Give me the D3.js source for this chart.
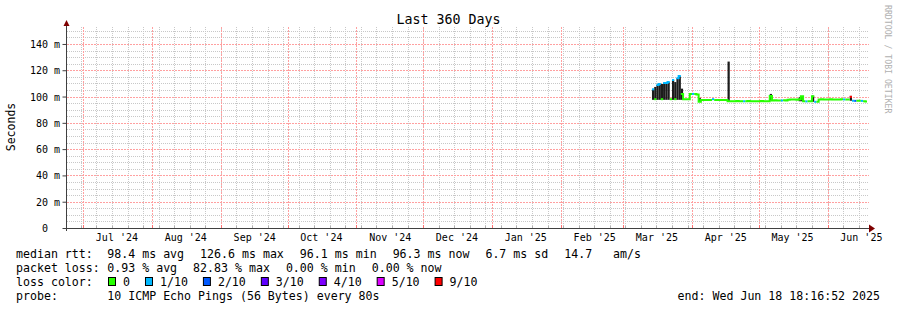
<!DOCTYPE html>
<html>
<head>
<meta charset="utf-8">
<script src="https://cdn.jsdelivr.net/npm/d3@7/dist/d3.min.js"></script>
<style>
body{margin:0;background:#fff;}
svg text{font-family:"DejaVu Sans Mono",monospace;white-space:pre;fill:#000;}
</style>
</head>
<body>
<div id="plot"></div>
<script>
// time span of the graph
var endTime = new Date(Date.UTC(2025,5,18,18,16,52));
var spanDays = 360;
var firstDay = "2025-03-14";

// one value per day from firstDay, in ms
var median = [105.5,98,108.8,109.6,98,110.3,110.3,111,98,112.6,98,114,115.6,102,98,98,98,102,102,102,101.5,96,
  97.3,97.3,97.3,97.3,97.3,98,97.3,97.3,97.3,97.3,97.3,97.3,96.5,
  96.5,96.4,96.5,96.6,96.5,96.5,96.4,96.5,96.6,96.5,96.5,96.4,96.5,96.5,96.6,96.5,96.4,96.5,
  100.5,97.0,97.1,97.0,96.9,97.0,97.1,97.0,97.6,97.7,97.8,97.7,97.6,98.0,100.2,
  96.4,96.3,96.4,96.4,100.3,96.0,96.1,
  97.8,97.9,97.8,97.7,97.8,97.9,97.8,97.8,97.7,97.8,97.9,97.8,97.8,97.7,
  99.8,96.8,96.7,96.8,96.8,96.7,96.5,96.3];
var loss = [1,0,1,1,0,1,1,1,0,1,0,1,1,0,0,0,0,0,1,0,0,0,
  0,0,0,0,0,1,0,0,0,0,0,0,0,
  0,0,0,0,0,0,1,0,0,0,0,0,0,0,0,0,0,0,
  0,0,0,0,0,1,0,0,0,0,0,0,0,0,0,
  0,1,0,0,0,1,0,
  0,0,0,0,0,0,0,0,0,0,0,1,0,0,
  9,1,2,0,0,1,0,0];
var smokeLo = [97.5,97.5,97.5,97.5,97.5,97.5,97.5,97.5,null,97.5,97.5,97.5,97.5,97.5,null,null,null,null,null,null,null,96,
  null,null,null,null,null,null,null,null,null,null,null,null,96.5,
  null,null,null,null,null,null,null,null,null,null,null,null,null,null,null,null,null,null,
  97,null,null,null,null,null,null,null,null,null,null,null,null,96.4,96.4,
  null,null,null,null,96,null,null,
  null,null,null,null,null,null,null,null,null,null,null,null,null,null,
  96.8,null,null,null,null,null,null,null];
var smokeHi = [105.8,107.3,108.8,109.6,109.6,110.3,110.3,111,null,112.6,111,114,115.6,106,null,null,null,null,null,null,null,99,
  null,null,null,null,null,null,null,null,null,null,null,null,126.6,
  null,null,null,null,null,null,null,null,null,null,null,null,null,null,null,null,null,null,
  102,null,null,null,null,null,null,null,null,null,null,null,null,99.5,100.4,
  null,null,null,null,100.6,null,null,
  null,null,null,null,null,null,null,null,null,null,null,null,null,null,
  100.5,null,null,null,null,null,null,null];

var lossLevels = [0,1,2,3,4,5,9];
var lossColors = ["#26ff00","#00b8ff","#0059ff","#5e00ff","#7e00ff","#dd00ff","#ff0000"];
var lossLabels = ["0","1/10","2/10","3/10","4/10","5/10","9/10"];

var yTicks = [0,20,40,60,80,100,120,140];
var yTickLabels = ["  0  "," 20 m"," 40 m"," 60 m"," 80 m","100 m","120 m","140 m"];
var monthLabels = ["Jul '24","Aug '24","Sep '24","Oct '24","Nov '24","Dec '24","Jan '25","Feb '25","Mar '25","Apr '25","May '25","Jun '25"];

var rttStats = ["98.4 ms avg","126.6 ms max","96.1 ms min","96.3 ms now","6.7 ms sd","14.7   am/s"];
var lossStats = ["0.93 % avg","82.83 % max","0.00 % min","0.00 % now"];
var probeText = "10 ICMP Echo Pings (56 Bytes) every 80s";
var endText = "end: Wed Jun 18 18:16:52 2025";

//set up
var W = 897, H = 310;
var plotL = 67, plotR = 867, plotT = 27, plotB = 228;
var svg = d3.select('#plot').append('svg')
  .attr('width',W).attr('height',H);
svg.append('rect').attr('width',W).attr('height',H).style('fill','#fff');

var startTime = d3.utcDay.offset(endTime,-spanDays);
var x = d3.scaleUtc().domain([startTime,endTime]).range([plotL,plotR]);
var y = d3.scaleLinear().domain([0,152.9]).range([plotB,plotT]);

var minorCol = '#c8c8c8', majorCol = '#ffa0a0';

//grid
var grid = svg.append('g').attr('shape-rendering','crispEdges');
var minorY = d3.range(5,152.9,5).filter(function(v){return v%20!==0;});
grid.selectAll('line.hmin').data(minorY).enter().append('line')
  .attr('x1',plotL).attr('x2',plotR+2)
  .attr('y1',function(d){return Math.round(y(d))+0.5;})
  .attr('y2',function(d){return Math.round(y(d))+0.5;})
  .style('stroke',minorCol).style('stroke-dasharray','1,1');
var months = d3.utcMonth.range(startTime,endTime);
var weeks = d3.utcSunday.range(startTime,endTime);
grid.selectAll('line.vmin').data(weeks).enter().append('line')
  .attr('x1',function(d){return Math.round(x(d))+0.5;})
  .attr('x2',function(d){return Math.round(x(d))+0.5;})
  .attr('y1',plotT).attr('y2',plotB)
  .style('stroke',minorCol).style('stroke-dasharray','1,1');
grid.selectAll('line.hmaj').data(yTicks.slice(1)).enter().append('line')
  .attr('x1',plotL).attr('x2',plotR+2)
  .attr('y1',function(d){return Math.round(y(d))+0.5;})
  .attr('y2',function(d){return Math.round(y(d))+0.5;})
  .style('stroke',majorCol).style('stroke-dasharray','2,1');
grid.selectAll('line.vmaj').data(months).enter().append('line')
  .attr('x1',function(d){return Math.round(x(d))+0.5;})
  .attr('x2',function(d){return Math.round(x(d))+0.5;})
  .attr('y1',plotT).attr('y2',plotB)
  .style('stroke',majorCol).style('stroke-dasharray','2,1');

//data bins
var day0 = d3.utcParse('%Y-%m-%d')(firstDay);
var bins = median.map(function(m,i){
  var t0 = d3.utcDay.offset(day0,i);
  var t1 = d3.min([d3.utcDay.offset(day0,i+1),endTime]);
  return {t0:t0,t1:t1,med:m,loss:loss[i],lo:smokeLo[i],hi:smokeHi[i]};
});

//smoke
svg.append('g').selectAll('rect').data(bins.filter(function(b){return b.hi!=null;}))
  .enter().append('rect')
  .attr('x',function(b){return x(b.t0);})
  .attr('width',function(b){return x(b.t1)-x(b.t0);})
  .attr('y',function(b){return y(b.hi);})
  .attr('height',function(b){return y(b.lo)-y(b.hi);})
  .style('fill','#1c1c1c');

//median line, one run per loss colour
var runs = [];
bins.forEach(function(b){
  var last = runs[runs.length-1];
  if(last && last.loss===b.loss) last.bins.push(b);
  else runs.push({loss:b.loss,bins:[b]});
});
var stepLine = d3.line().curve(d3.curveStepAfter);
svg.append('g').selectAll('path').data(runs).enter().append('path')
  .attr('d',function(r){
    var pts = r.bins.map(function(b){return [x(b.t0),y(b.med)];});
    var lb = r.bins[r.bins.length-1];
    pts.push([x(lb.t1),y(lb.med)]);
    return stepLine(pts);
  })
  .style('fill','none')
  .style('stroke',function(r){return lossColors[lossLevels.indexOf(r.loss)];})
  .style('stroke-width',2);

//axes
var axisCol = '#404040', arrowCol = '#7f0000';
svg.selectAll('line.xtmin').data(weeks).enter().append('line')
  .attr('x1',function(d){return Math.round(x(d))+0.5;})
  .attr('x2',function(d){return Math.round(x(d))+0.5;})
  .attr('y1',plotB-2).attr('y2',plotB)
  .style('stroke','#b0b0b0');
svg.selectAll('line.xtmaj').data(months).enter().append('line')
  .attr('x1',function(d){return Math.round(x(d))+0.5;})
  .attr('x2',function(d){return Math.round(x(d))+0.5;})
  .attr('y1',plotB-3).attr('y2',plotB)
  .style('stroke','#ff7070');

svg.append('line').attr('x1',63).attr('x2',870).attr('y1',plotB+0.5).attr('y2',plotB+0.5)
  .style('stroke',axisCol);
svg.append('line').attr('x1',plotL-0.5).attr('x2',plotL-0.5).attr('y1',plotB+3).attr('y2',24)
  .style('stroke',axisCol);
svg.append('path').attr('d','M869,224.5L875,228.5L869,232.5Z').style('fill',arrowCol);
svg.append('path').attr('d','M63.5,26L66.5,20L69.5,26Z').style('fill',arrowCol);

var yAxis = d3.axisLeft(y).tickValues(yTicks)
  .tickFormat(function(d,i){return yTickLabels[i];})
  .tickSize(4).tickPadding(0);
var gy = svg.append('g').attr('transform','translate('+(plotL-0.5)+',0)').call(yAxis);
gy.select('.domain').remove();
gy.selectAll('.tick line').style('stroke',axisCol);
gy.selectAll('.tick text')
  .attr('text-anchor','start').attr('x',-36.5).attr('dy','0.35em')
  .attr('xml:space','preserve')
  .style('font-size','10px').style('font-family','"DejaVu Sans Mono",monospace').style('fill','#000');

var labelTimes = months.map(function(m){return d3.utcDay.offset(m,15);});
var xAxis = d3.axisBottom(x).tickValues(labelTimes)
  .tickFormat(function(d,i){return monthLabels[i];})
  .tickSize(0).tickPadding(6.3);
var gx = svg.append('g').attr('transform','translate(0,'+plotB+')').call(xAxis);
gx.select('.domain').remove();
gx.selectAll('.tick text')
  .style('font-size','10px').style('font-family','"DejaVu Sans Mono",monospace').style('fill','#000');

//titles
svg.append('text').attr('x',448.5).attr('y',23.5).attr('text-anchor','middle')
  .style('font-size','13.3px').text('Last 360 Days');
svg.append('text').attr('transform','translate(15,127) rotate(-90)').attr('text-anchor','middle')
  .style('font-size','11.5px').text('Seconds');
svg.append('text').attr('transform','translate(885,5) rotate(90)')
  .style('font-size','8.2px').style('fill','#b0b0b0').text('RRDTOOL / TOBI OETIKER');

//legend
var fs = '11.6px';
function flowRow(items,y0){
  var xx = 107.3;
  items.forEach(function(s){
    var t = svg.append('text').attr('x',xx).attr('y',y0).attr('xml:space','preserve')
      .style('font-size',fs).text(s);
    xx += t.node().getComputedTextLength()+16;
  });
}
svg.append('text').attr('x',16).attr('y',258).style('font-size',fs).text('median rtt:');
flowRow(rttStats,258);
svg.append('text').attr('x',16).attr('y',272).style('font-size',fs).text('packet loss:');
flowRow(lossStats,272);
svg.append('text').attr('x',16).attr('y',286).style('font-size',fs).text('loss color:');
var lx = 108;
lossLabels.forEach(function(s,i){
  svg.append('rect').attr('x',lx+0.5).attr('y',277.5).attr('width',7).attr('height',8)
    .style('fill',lossColors[i]).style('stroke','#000');
  var t = svg.append('text').attr('x',lx+15).attr('y',286).style('font-size',fs).text(s);
  lx += 15+t.node().getComputedTextLength()+15;
});
svg.append('text').attr('x',16).attr('y',300).style('font-size',fs).text('probe:');
svg.append('text').attr('x',107.3).attr('y',300).style('font-size',fs).text(probeText);
svg.append('text').attr('x',880).attr('y',300).attr('text-anchor','end').style('font-size',fs).text(endText);
</script>
</body>
</html>
